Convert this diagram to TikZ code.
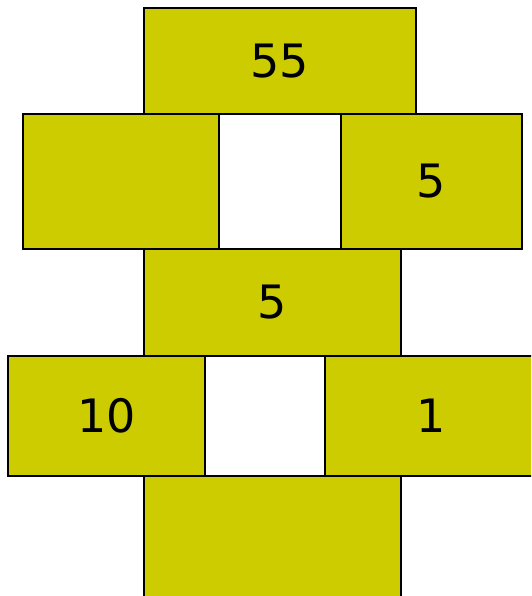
\documentclass[tikz,border=0pt]{standalone}
\usepackage{fontspec}
\setsansfont{DejaVu Sans}
\usetikzlibrary{positioning}
\definecolor{CellOlive}{RGB}{204,204,0}
\tikzset{
	cell/.style={draw=black, fill=CellOlive, line width=1.6pt,
		rectangle, inner sep=0pt, anchor=north west,
		font=\sffamily\fontsize{46}{50}\selectfont},
}

\begin{document}
\begin{tikzpicture}[x=1pt, y=-1pt]
		
		% page frame (pixel units of the reference)
		\clip (0,0) rectangle (531,596);
		\fill[white] (0,0) rectangle (531,596);
		
		% --- row 1 ---
		\node[cell, minimum width=272pt, minimum height=106pt] (top) at (143,7) {55};
		
		% --- row 2: two cells, white gap between ---
		\node[cell, minimum width=196pt, minimum height=135pt] (leftA) at (22,113) {};
		\node[cell, minimum width=181pt, minimum height=135pt] (rightA) at (340,113) {5};
		
		% --- row 3 ---
		\node[cell, minimum width=257pt, minimum height=107pt] (mid) at (143,248) {5};
		
		% --- row 4 ---
		\node[cell, minimum width=197pt, minimum height=120pt] (leftB) at (7,355) {10};
		\node[cell, minimum width=212pt, minimum height=120pt] (rightB) at (324,355) {1};
		
		% --- row 5 (runs off the bottom) ---
		\node[cell, minimum width=257pt, minimum height=130pt] (bottom) at (143,475) {};
		
	\end{tikzpicture}
\end{document}
